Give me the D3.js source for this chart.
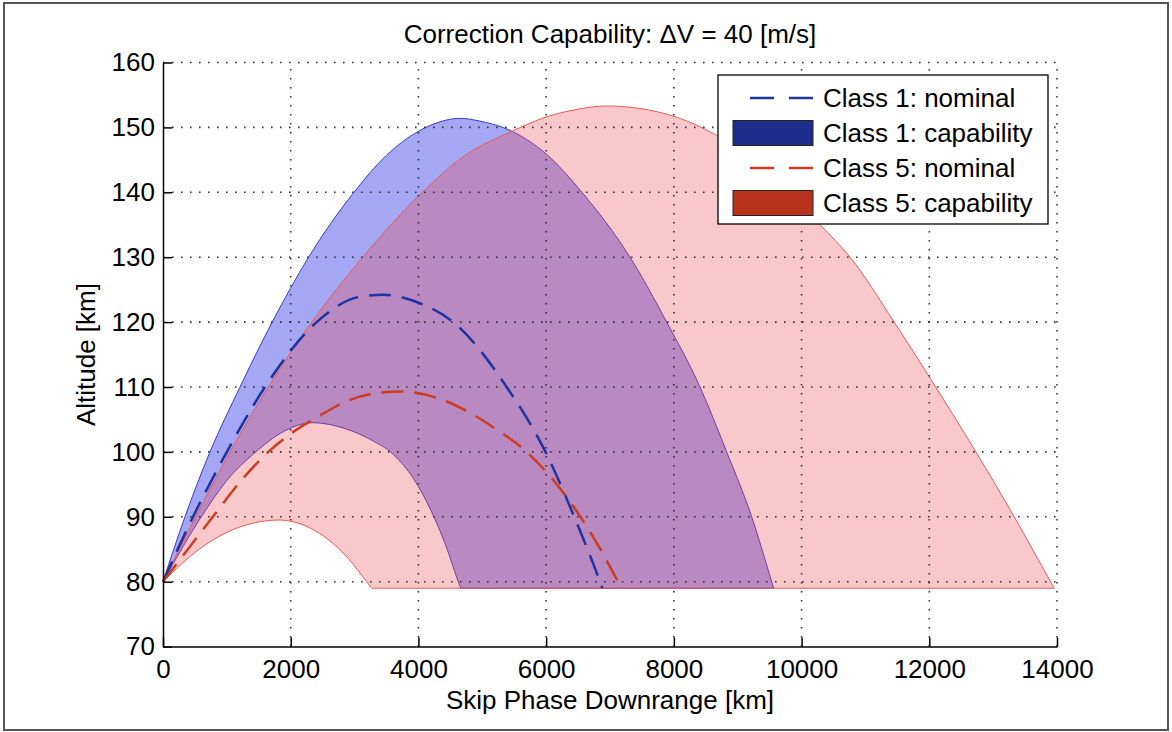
<!DOCTYPE html>
<html>
<head>
<meta charset="utf-8">
<script src="https://cdn.jsdelivr.net/npm/d3@7"></script>
<style>
  body { margin: 0; background: #fff; }
  text { font-family: "Liberation Sans", Arial, sans-serif; fill: #000; }
</style>
</head>
<body>
<div id="chart-area"></div>
<script>
// downrange [km], altitude [km]
const class1CapUpper = [[0, 80], [344, 90], [736, 100], [1206, 110], [1710, 120], [2280, 130], [2990, 140],
  [3500, 145.7], [4000, 149.4], [4350, 150.9], [4650, 151.4], [4950, 151.0], [5465, 149.4], [6000, 145.9],
  [6560, 140], [7313, 130], [7888, 120], [8409, 110], [8827, 100], [9219, 90], [9532, 80], [9563, 79]];
const class1CapLower = [[0, 80], [600, 90], [1000, 95.6], [1441, 99.9], [1900, 103.2], [2350, 104.5],
  [2850, 103.6], [3250, 101.9], [3607, 99.6], [3920, 95.9], [4233, 90.2], [4450, 85], [4624, 80], [4663, 79]];
const class5CapUpper = [[0, 80], [510, 90], [1050, 100], [1650, 110], [2330, 120], [3130, 130], [4060, 140],
  [4750, 145.8], [5465, 149.4], [6000, 151.6], [6500, 152.8], [6950, 153.3], [7600, 152.7], [8200, 151.0],
  [8800, 148.0], [9300, 144.5], [9800, 140], [10290, 135], [10760, 130], [11450, 120], [12100, 110],
  [12730, 100], [13330, 90], [13900, 80], [13957, 79]];
const class5CapLower = [[0, 80], [579, 85.1], [1000, 87.6], [1400, 89.0], [1806, 89.5], [2300, 88.3],
  [2600, 86.4], [2900, 83.6], [3189, 80], [3270, 79]];
const class1Nominal = [[0, 80], [470, 90], [1000, 100], [1597, 110], [2406, 120], [3085, 123.9], [3450, 124.2],
  [4024, 122.9], [4546, 120], [5382, 110], [5990, 100], [6440, 90], [6843, 80], [6880, 79]];
const class5Nominal = [[0, 80], [780, 90], [1200, 95.3], [1650, 100], [2000, 102.8], [2406, 105.3],
  [2876, 107.8], [3300, 109.0], [3711, 109.3], [4200, 108.6], [4700, 106.6], [5200, 103.6], [5695, 100],
  [6100, 95.8], [6503, 90.5], [6850, 85], [7130, 80], [7192, 79]];

const xTicks = [0, 2000, 4000, 6000, 8000, 10000, 12000, 14000];
const yTicks = [70, 80, 90, 100, 110, 120, 130, 140, 150, 160];
const legendLabels = ["Class 1: nominal", "Class 1: capability", "Class 5: nominal", "Class 5: capability"];

const W = 1172, H = 732;
const svg = d3.select("#chart-area").append("svg")
    .attr("width", W)
    .attr("height", H);

// figure frame
svg.append("rect")
    .attr("x", 4).attr("y", 3).attr("width", 1164).attr("height", 727)
    .attr("fill", "none").attr("stroke", "#555").attr("stroke-width", 2);

const x = d3.scaleLinear().domain([0, 14000]).range([163, 1057]);
const y = d3.scaleLinear().domain([70, 160]).range([646.6, 62.5]);

const line = d3.line()
    .x(d => x(d[0]))
    .y(d => y(d[1]))
    .curve(d3.curveMonotoneX);

// region between an upper and a lower trajectory, closed along the 79 km floor
function band(upper, lower) {
  return line(upper) + line(lower.slice().reverse()).replace(/^M/, "L") + "Z";
}

svg.append("path")
    .attr("d", band(class1CapUpper, class1CapLower))
    .attr("fill", "rgb(45,55,230)")
    .attr("fill-opacity", 0.44)
    .attr("stroke", "rgb(60,60,190)")
    .attr("stroke-width", 1);

svg.append("path")
    .attr("d", band(class5CapUpper, class5CapLower))
    .attr("fill", "rgb(240,70,80)")
    .attr("fill-opacity", 0.3)
    .attr("stroke", "rgb(235,90,80)")
    .attr("stroke-width", 1);

// dotted grid
const grid = svg.append("g")
    .attr("stroke", "#333")
    .attr("stroke-width", 1.6)
    .attr("stroke-dasharray", "1.6,7.4");

grid.selectAll(".vgrid")
    .data(xTicks.filter(d => d > 0))
    .enter().append("line")
    .attr("x1", d => x(d)).attr("x2", d => x(d))
    .attr("y1", y(70)).attr("y2", y(160));

grid.selectAll(".hgrid")
    .data(yTicks.filter(d => d > 70))
    .enter().append("line")
    .attr("x1", x(0)).attr("x2", x(14000))
    .attr("y1", d => y(d)).attr("y2", d => y(d));

// nominal trajectories
svg.append("path")
    .attr("d", line(class1Nominal))
    .attr("fill", "none")
    .attr("stroke", "rgb(30,50,160)")
    .attr("stroke-width", 2.5)
    .attr("stroke-dasharray", "22,11");

svg.append("path")
    .attr("d", line(class5Nominal))
    .attr("fill", "none")
    .attr("stroke", "rgb(205,60,30)")
    .attr("stroke-width", 2.5)
    .attr("stroke-dasharray", "22,11");

// axes, ticks pointing inward
const xAxis = svg.append("g")
    .attr("transform", `translate(0,${y(70)})`)
    .call(d3.axisBottom(x).tickValues(xTicks).tickFormat(d3.format("d"))
      .tickSizeInner(-9).tickSizeOuter(0).tickPadding(13));

const yAxis = svg.append("g")
    .attr("transform", `translate(${x(0)},0)`)
    .call(d3.axisLeft(y).tickValues(yTicks).tickFormat(d3.format("d"))
      .tickSizeInner(-9).tickSizeOuter(0).tickPadding(8));

[xAxis, yAxis].forEach(a => {
  a.selectAll("text").attr("font-size", 26).attr("font-family", null).attr("fill", "#000");
  a.selectAll("line").attr("stroke", "#000").attr("stroke-width", 1.5);
  a.select(".domain").attr("stroke", "#000").attr("stroke-width", 1.5);
});

// title and axis labels
svg.append("text")
    .attr("x", 610).attr("y", 43)
    .attr("text-anchor", "middle")
    .attr("font-size", 26)
    .text("Correction Capability: \u0394V = 40 [m/s]");

svg.append("text")
    .attr("x", 610).attr("y", 709)
    .attr("text-anchor", "middle")
    .attr("font-size", 26)
    .text("Skip Phase Downrange [km]");

svg.append("text")
    .attr("transform", `translate(95,${(y(70) + y(160)) / 2}) rotate(-90)`)
    .attr("text-anchor", "middle")
    .attr("font-size", 26)
    .text("Altitude [km]");

// legend
const legend = svg.append("g");
legend.append("rect")
    .attr("x", 718).attr("y", 75).attr("width", 330).attr("height", 149)
    .attr("fill", "#fff").attr("stroke", "#000").attr("stroke-width", 1.3);

const rows = legend.selectAll(".row")
    .data(legendLabels)
    .enter().append("g")
    .attr("transform", (d, i) => `translate(0,${98 + i * 35})`);

rows.append("text")
    .attr("x", 823).attr("dy", "0.36em")
    .attr("font-size", 26)
    .text(d => d);

rows.filter((d, i) => i % 2 === 0).append("line")
    .attr("x1", 750).attr("x2", 813)
    .attr("stroke", (d, i) => i === 0 ? "rgb(30,50,160)" : "rgb(205,60,30)")
    .attr("stroke-width", 2.5)
    .attr("stroke-dasharray", "24,15");

rows.filter((d, i) => i % 2 === 1).append("rect")
    .attr("x", 733).attr("y", -12.5).attr("width", 80).attr("height", 25)
    .attr("fill", (d, i) => i === 0 ? "rgb(30,45,140)" : "rgb(185,50,30)")
    .attr("stroke", "#222").attr("stroke-width", 1);
</script>
</body>
</html>
